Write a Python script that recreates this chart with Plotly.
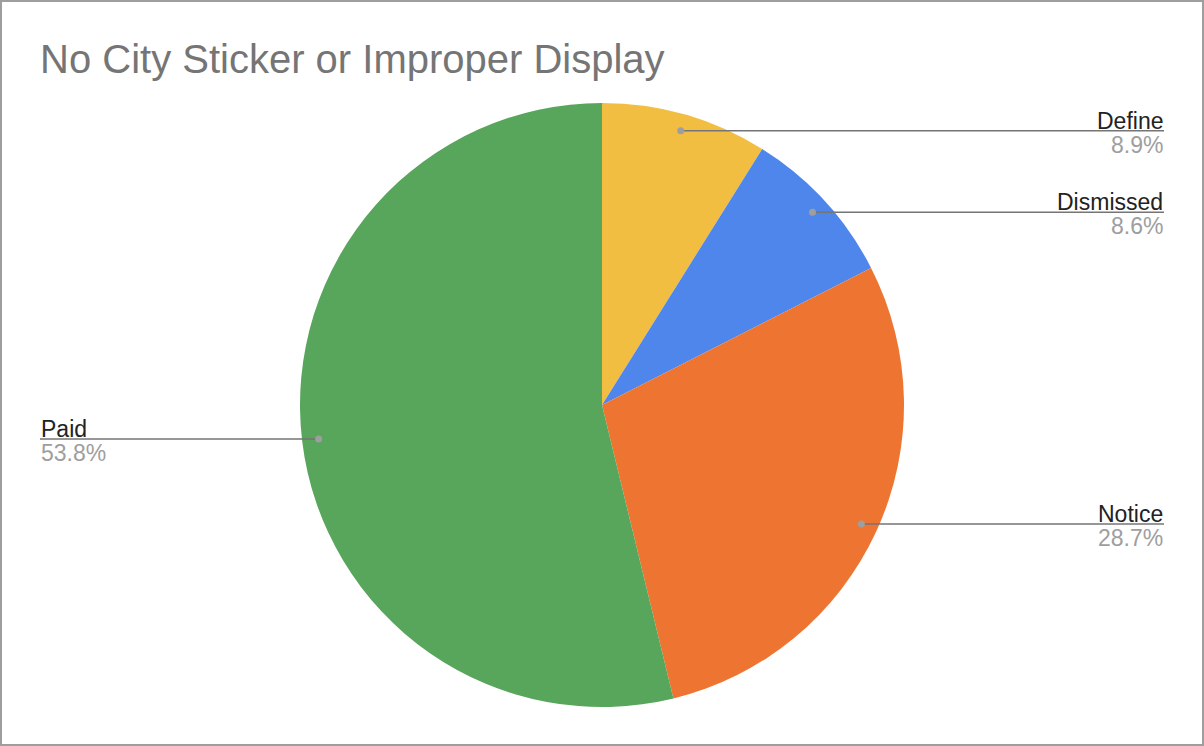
import math
import plotly.graph_objects as go

labels = ["Define", "Dismissed", "Notice", "Paid"]
values = [8.9, 8.6, 28.7, 53.8]
colors = ["#F1BE42", "#4F86EC", "#EE7431", "#58A55C"]
title = "No City Sticker or Improper Display"

W, H = 1204, 746
cx, cy, R = 602, 405, 302  # pixel center / radius

fig = go.Figure(go.Pie(
    labels=labels, values=values, sort=False, direction="clockwise",
    rotation=0, marker=dict(colors=colors, line=dict(width=0)),
    textinfo="none", hoverinfo="label+percent", showlegend=False,
    domain=dict(x=[(cx - R) / W, (cx + R) / W],
                y=[(H - cy - R) / H, (H - cy + R) / H]),
))

def px(x):
    return x / W

def py(y):
    return 1 - y / H

shapes = [dict(type="rect", xref="paper", yref="paper", x0=1 / W, y0=1 / H,
               x1=1 - 1 / W, y1=1 - 1 / H, line=dict(color="#9E9E9E", width=2))]
annotations = []
total = sum(values)
cum = 0
for lab, v in zip(labels, values):
    mid = (cum + v / 2) / total * 2 * math.pi
    cum += v
    r = R * 0.945
    dx = cx + r * math.sin(mid)
    dy = cy - r * math.cos(mid)
    right = math.sin(mid) > 0
    xend = 1164 if right else 40
    shapes.append(dict(type="line", xref="paper", yref="paper", x0=px(dx), y0=py(dy),
                       x1=px(xend), y1=py(dy), line=dict(color="#757575", width=1.5)))
    shapes.append(dict(type="circle", xref="paper", yref="paper",
                       x0=px(dx - 3.5), x1=px(dx + 3.5), y0=py(dy + 3.5), y1=py(dy - 3.5),
                       fillcolor="#9E9E9E", line=dict(width=0)))
    anc = "right" if right else "left"
    annotations.append(dict(x=px(xend), y=py(dy + 4), xref="paper", yref="paper",
                            text=lab, showarrow=False, xanchor=anc, yanchor="bottom",
                            font=dict(size=23, color="#222222"), borderpad=0))
    annotations.append(dict(x=px(xend), y=py(dy), xref="paper", yref="paper",
                            text=f"{v / total * 100:.1f}%", showarrow=False, xanchor=anc,
                            yanchor="top", font=dict(size=23, color="#9E9E9E"), borderpad=0))

fig.update_layout(
    width=W, height=H, margin=dict(l=0, r=0, t=0, b=0),
    paper_bgcolor="white", plot_bgcolor="white",
    font=dict(family="Liberation Sans, Arial, sans-serif"),
    title=dict(text=title, x=40 / W, xanchor="left", y=1 - 59 / H, yanchor="middle",
               font=dict(size=40, color="#757575")),
    shapes=shapes, annotations=annotations,
)

fig.write_html("out.html", config={"displayModeBar": False},
               post_script="document.body.style.margin='0';document.body.style.overflow='hidden';")
